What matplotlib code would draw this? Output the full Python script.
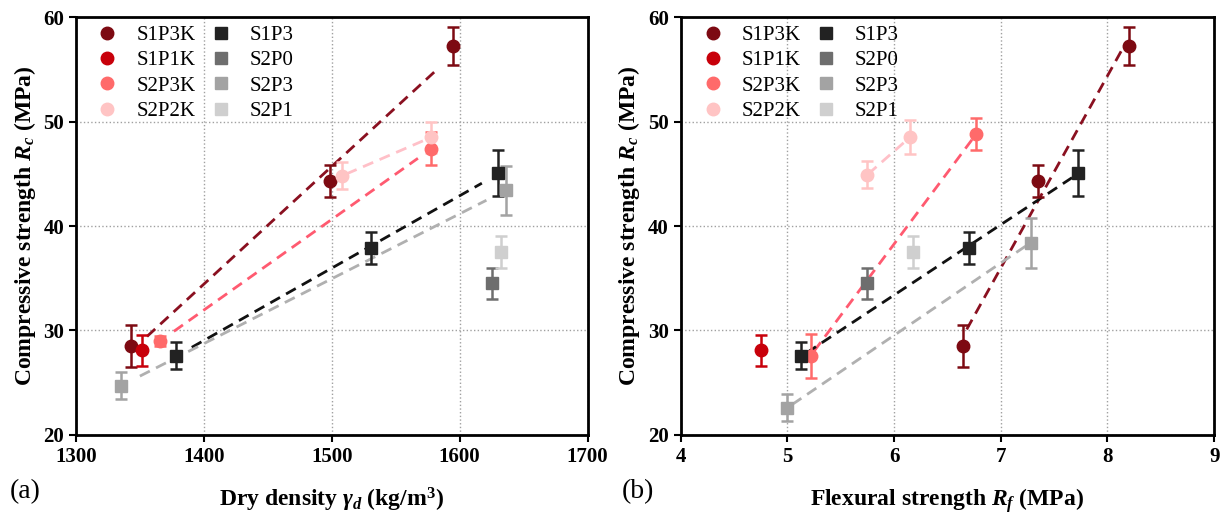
import matplotlib.pyplot as plt
import numpy as np

plt.rcParams['font.family'] = 'Liberation Serif'
plt.rcParams['mathtext.fontset'] = 'custom'
plt.rcParams['mathtext.rm'] = 'Liberation Serif:bold'
plt.rcParams['mathtext.it'] = 'Liberation Serif:italic:bold'
plt.rcParams['mathtext.bf'] = 'Liberation Serif:bold'

# series names, markers and colours
names = ['S1P3K', 'S1P1K', 'S2P3K', 'S2P2K', 'S1P3', 'S2P0', 'S2P3', 'S2P1']
markers = ['o', 'o', 'o', 'o', 's', 's', 's', 's']
colors = ['#7d0a12', '#c8000a', '#ff6a6a', '#ffc4c4', '#222222', '#6e6e6e', '#a3a3a3', '#cfcfcf']
line_colors = ['#8a1020', None, '#ff5a70', '#ffc0c8', '#111111', None, '#b0b0b0', None]

# dry density (kg/m3)
density = {
    'S1P3K': [1343, 1499, 1595],
    'S1P1K': [1352],
    'S2P3K': [1366, 1578],
    'S2P2K': [1508, 1578],
    'S1P3': [1378, 1531, 1630],
    'S2P0': [1625],
    'S2P3': [1335, 1636],
    'S2P1': [1632],
}
# compressive strength (MPa) and error, panel (a)
rc_a = {
    'S1P3K': [28.5, 44.3, 57.2],
    'S1P1K': [28.1],
    'S2P3K': [29.0, 47.4],
    'S2P2K': [44.8, 48.5],
    'S1P3': [27.6, 37.9, 45.1],
    'S2P0': [34.5],
    'S2P3': [24.7, 43.4],
    'S2P1': [37.5],
}
err_a = {
    'S1P3K': [2.0, 1.5, 1.8],
    'S1P1K': [1.5],
    'S2P3K': [0.5, 1.6],
    'S2P2K': [1.3, 1.5],
    'S1P3': [1.3, 1.5, 2.2],
    'S2P0': [1.5],
    'S2P3': [1.3, 2.3],
    'S2P1': [1.5],
}

# flexural strength (MPa)
flexural = {
    'S1P3K': [6.65, 7.35, 8.2],
    'S1P1K': [4.75],
    'S2P3K': [5.22, 6.77],
    'S2P2K': [5.75, 6.15],
    'S1P3': [5.13, 6.7, 7.72],
    'S2P0': [5.75],
    'S2P3': [5.0, 7.28],
    'S2P1': [6.18],
}
rc_b = {
    'S1P3K': [28.5, 44.3, 57.2],
    'S1P1K': [28.1],
    'S2P3K': [27.6, 48.8],
    'S2P2K': [44.9, 48.5],
    'S1P3': [27.6, 37.9, 45.1],
    'S2P0': [34.5],
    'S2P3': [22.6, 38.4],
    'S2P1': [37.5],
}
err_b = {
    'S1P3K': [2.0, 1.5, 1.8],
    'S1P1K': [1.5],
    'S2P3K': [2.1, 1.5],
    'S2P2K': [1.3, 1.6],
    'S1P3': [1.3, 1.5, 2.2],
    'S2P0': [1.5],
    'S2P3': [1.3, 2.4],
    'S2P1': [1.5],
}

fig = plt.figure(figsize=(12.24, 5.16), dpi=100)
ax1 = fig.add_axes([0.062, 0.157, 0.418, 0.810])
ax2 = fig.add_axes([0.556, 0.157, 0.436, 0.810])


def draw(ax, xs, ys, es, shrink):
    for name, m, c, lc in zip(names, markers, colors, line_colors):
        x = np.array(xs[name])
        y = np.array(ys[name])
        if lc is not None and len(x) > 1:
            k, b = np.polyfit(x, y, 1)
            span = x.max() - x.min()
            xl = np.array([x.min() + shrink * span, x.max() - shrink * span])
            ax.plot(xl, k * xl + b, ls=(0, (4, 2.5)), color=lc, lw=2, zorder=2)
        ax.errorbar(x, y, yerr=es[name], fmt=m, color=c, ms=9, ecolor=c,
                    elinewidth=1.8, capsize=4, capthick=1.8, label=name, zorder=3)
    ax.set_ylim(20, 60)
    ax.set_yticks([20, 30, 40, 50, 60])
    ax.grid(True, ls=':', color='#a0a0a0', lw=1)
    for s in ax.spines.values():
        s.set_linewidth(2)
    ax.tick_params(direction='out', width=1.5, length=5, labelsize=15)
    ax.set_ylabel('Compressive strength $R_c$ (MPa)', fontsize=17, fontweight='bold')
    h, l = ax.get_legend_handles_labels()
    h = [hh[0] for hh in h]
    ax.legend(h, l, ncol=2, loc='upper left', frameon=False, fontsize=15,
              handlelength=1.0, handletextpad=0.9, columnspacing=0.7,
              labelspacing=0.28, borderaxespad=0.1, borderpad=0.3,
              bbox_to_anchor=(0.025, 1.0))


draw(ax1, density, rc_a, err_a, 0.05)
ax1.set_xlim(1300, 1700)
ax1.set_xticks([1300, 1400, 1500, 1600, 1700])
ax1.set_xlabel('Dry density $\\gamma_d$ (kg/m$^3$)', fontsize=17, fontweight='bold', labelpad=14)

draw(ax2, flexural, rc_b, err_b, 0.02)
ax2.set_xlim(4, 9)
ax2.set_xticks([4, 5, 6, 7, 8, 9])
ax2.set_xlabel('Flexural strength $R_f$ (MPa)', fontsize=17, fontweight='bold', labelpad=14)

for ax in (ax1, ax2):
    for t in ax.get_xticklabels() + ax.get_yticklabels():
        t.set_fontweight('bold')

fig.text(0.008, 0.035, '(a)', fontsize=20)
fig.text(0.508, 0.035, '(b)', fontsize=20)

fig.savefig('out.png', dpi=100)
